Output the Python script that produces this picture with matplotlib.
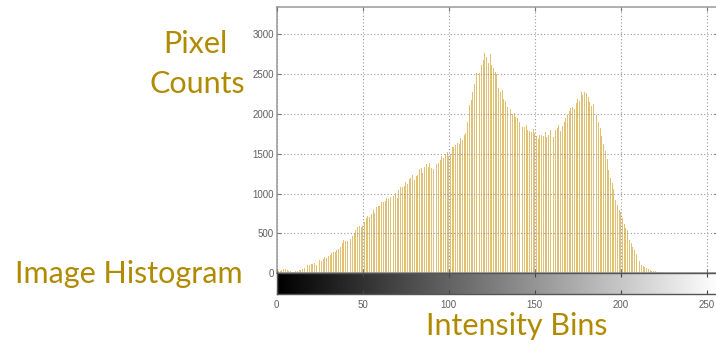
import matplotlib
matplotlib.use("Agg")
import matplotlib.pyplot as plt
import numpy as np

# Pixel counts per intensity bin (0..255)
counts = [
    15, 25, 35, 45, 50, 48, 40, 30, 25, 22, 20, 25, 30, 38, 45, 55, 70, 95, 105, 110,
    115, 112, 125, 100, 135, 165, 150, 180, 200, 195, 215, 225, 250, 265, 270, 290, 305, 335, 380, 420,
    410, 400, 395, 430, 470, 500, 540, 575, 590, 585, 595, 640, 700, 720, 705, 740, 790, 760, 830, 850,
    845, 900, 890, 910, 950, 930, 960, 990, 970, 1010, 940, 1050, 1080, 1085, 1100, 1140, 1120, 1180, 1200, 1230,
    1170, 1220, 1240, 1310, 1325, 1260, 1330, 1370, 1340, 1380, 1320, 1310, 1460, 1370, 1390, 1420, 1470, 1450, 1500, 1520,
    1470, 1500, 1580, 1590, 1610, 1640, 1620, 1700, 1670, 1740, 1760, 1900, 2110, 2180, 2270, 2380, 2510, 2530, 2520, 2620,
    2680, 2760, 2720, 2640, 2750, 2620, 2580, 2530, 2500, 2320, 2280, 2300, 2190, 2160, 2090, 2110, 2060, 2000, 2010, 1960,
    1950, 1900, 1880, 1840, 1830, 1860, 1800, 1780, 1770, 1810, 1760, 1720, 1690, 1740, 1740, 1720, 1770, 1710, 1740, 1800,
    1770, 1710, 1800, 1820, 1860, 1780, 1850, 1900, 1950, 1990, 2040, 2080, 2090, 2060, 2140, 2190, 2160, 2280, 2240, 2280,
    2260, 2210, 2150, 2100, 2130, 2060, 1990, 1900, 1820, 1720,
    1620, 1530, 1430, 1300, 1200, 1130, 1060, 920, 860, 800,
    770, 700, 620, 570, 540, 420, 380, 330, 290, 240, 210, 160, 110, 90, 75, 62, 50, 42, 35, 30,
    25, 20, 18, 15, 12, 10, 8, 7, 6, 5, 4, 4, 3, 3, 2, 2, 2, 1, 1, 1,
    1, 0, 1, 0, 0, 1, 0, 0, 0, 0, 0, 0, 0, 0, 0, 0,
]
bins = np.arange(len(counts))

x_ticks = [0, 50, 100, 150, 200, 250]
y_ticks = [0, 500, 1000, 1500, 2000, 2500, 3000]

gold = "#B08A00"
bar_color = "#E0C174"
axis_gray = "#9A9A9A"
label_gray = "#606060"

fig = plt.figure(figsize=(7.16, 3.45), dpi=100)

# Histogram axes
ax = fig.add_axes([0.3865, 0.2078, 0.6163, 0.7728])
ax.bar(bins, counts, width=0.55, color=bar_color, linewidth=0, align="center")
ax.set_xlim(0, 256.5)
ax.set_ylim(0, 3346)
ax.set_xticks(x_ticks)
ax.set_yticks(y_ticks)
ax.set_xticklabels([])
ax.set_axisbelow(False)
ax.grid(True, linestyle=(0, (1, 2)), color="#999999", linewidth=0.8)
ax.tick_params(direction="in", length=3, width=0.8, color="#777777",
               top=True, right=True, labelsize=7, labelcolor=label_gray, pad=2)
for t in ax.get_yticklabels():
    t.set_family("Liberation Sans")
for s in ax.spines.values():
    s.set_color(axis_gray)
    s.set_linewidth(1.1)

# Gray level strip under the histogram
cax = fig.add_axes([0.3865, 0.147, 0.6163, 0.0609])
gradient = np.linspace(0, 1, 256).reshape(1, -1)
cax.imshow(gradient, aspect="auto", cmap="gray", extent=[0, 256.5, 0, 1])
cax.set_xlim(0, 256.5)
cax.set_ylim(0, 1)
cax.set_yticks([])
cax.set_xticks(x_ticks)
cax.tick_params(direction="in", length=3, width=0.8, color="#444444",
                top=True, labelsize=7, labelcolor=label_gray, pad=4)
for t in cax.get_xticklabels():
    t.set_family("Liberation Sans")
for s in cax.spines.values():
    s.set_color("#555555")
    s.set_linewidth(1.0)

# Slide-style captions
fs = 22
fig.text(195 / 716, 1 - 53 / 345, "Pixel", color=gold, fontsize=fs,
         family="Lato", ha="center", va="baseline")
fig.text(197 / 716, 1 - 92.5 / 345, "Counts", color=gold, fontsize=fs,
         family="Lato", ha="center", va="baseline")
fig.text(15 / 716, 1 - 283 / 345, "Image Histogram", color=gold, fontsize=fs,
         family="Lato", ha="left", va="baseline")
fig.text(426 / 716, 1 - 335 / 345, "Intensity Bins", color=gold, fontsize=fs,
         family="Lato", ha="left", va="baseline")

fig.savefig("out.png", dpi=100)
